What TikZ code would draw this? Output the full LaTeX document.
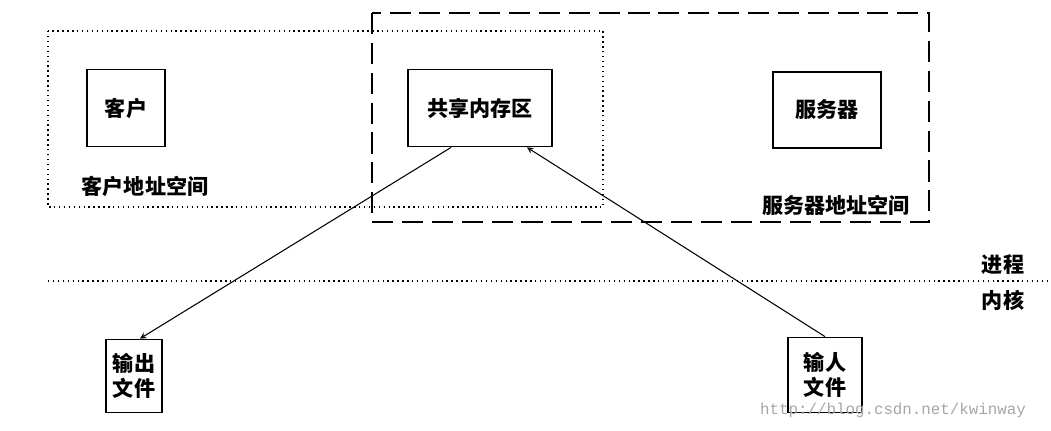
\documentclass[tikz,border=0pt]{standalone}
\usepackage{fontspec}
\setmainfont{Noto Sans CJK SC}
\newfontfamily\wmfont{Liberation Mono}
\usetikzlibrary{positioning}

\begin{document}
\begin{tikzpicture}[>=stealth, semithick, x=0.02cm, y=-0.02cm]
            \tikzset{procbox/.style={draw, line width=1pt, font=\bfseries\large, inner sep=0pt},
                     spacelabel/.style={font=\bfseries\large}};
            \useasboundingbox (0, 0) rectangle (1051, 431);
            % address spaces
            \draw[dotted, thick] (48, 31) rectangle (603, 207);
            \draw[dashed, line width=1pt, dash pattern=on 12pt off 5pt] (372, 13) rectangle (929, 222);
            \node[spacelabel] (clientsp) at (145, 186) {客户地址空间};
            \node[spacelabel] (serversp) at (836, 205) {服务器地址空间};
            % boxes
            \node[procbox, minimum width=78*0.02cm, minimum height=77*0.02cm] (client) at (126, 108) {客户};
            \node[procbox, minimum width=144*0.02cm, minimum height=77*0.02cm] (shm) at (480, 108) {共享内存区};
            \node[procbox, minimum width=108*0.02cm, minimum height=76*0.02cm] (server) at (827, 110) {服务器};
            % process / kernel
            \draw[dotted, thick] (48, 281) -- (1051, 281);
            \node[spacelabel] (proc) at (1003, 265) {进程};
            \node[spacelabel] (kern) at (1003, 300) {内核};
            % files
            \node[procbox, minimum width=56*0.02cm, minimum height=73*0.02cm, align=center] (outf) at (134, 376) {输出\\文件};
            \node[procbox, minimum width=74*0.02cm, minimum height=75*0.02cm, align=center] (inf) at (825, 375) {输人\\文件};
            \draw[->] (shm.south west) ++(44, 0) coordinate (s1) (s1) -- ([xshift=6*0.02cm]outf.north);
            \draw[->] (inf.north) -- ([xshift=47*0.02cm]shm.south);
            % watermark
            \node[font=\wmfont\small, text=gray!70] (wm) at (893, 410) {http://blog.csdn.net/kwinway};
\end{tikzpicture}
\end{document}
